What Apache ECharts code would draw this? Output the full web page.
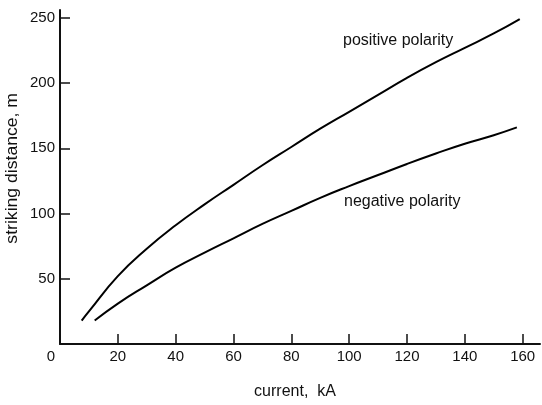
<!DOCTYPE html>
<html>
<head>
<meta charset="utf-8">
<script src="https://cdn.jsdelivr.net/npm/echarts@6/dist/echarts.min.js"></script>
<style>html,body{margin:0;padding:0;background:#fff;}#c{width:542px;height:405px;}</style>
</head>
<body>
<div id="c"></div>
<script>
// current (kA) and striking distance (m)
const positiveX = [7.5, 10, 20, 30, 40, 50, 60, 70, 80, 90, 100, 110, 120, 130, 140, 150, 159];
const positiveY = [18, 25, 52, 73, 91, 107, 122, 137, 151, 165, 178, 191, 204, 216, 227, 238, 249];
const negativeX = [12, 20, 30, 40, 50, 60, 70, 80, 90, 100, 110, 120, 130, 140, 150, 158];
const negativeY = [18, 31, 45, 58.5, 70, 81, 92, 102, 112, 121, 129.5, 138, 146, 153.5, 160, 166];
const xTicks = [0, 20, 40, 60, 80, 100, 120, 140, 160];
const yTicks = [50, 100, 150, 200, 250];
const seriesNames = ['positive polarity', 'negative polarity'];
const xTitle = 'current,  kA';
const yTitle = 'striking distance, m';

const chart = echarts.init(document.getElementById('c'));
const font = 'Liberation Sans, Arial, sans-serif';
const pair = (xs, ys) => xs.map((x, i) => [x, ys[i]]);
chart.setOption({
  animation: false,
  backgroundColor: '#fff',
  grid: { left: 60, right: 2, top: 10, bottom: 54 },
  xAxis: {
    type: 'value', min: 0, max: 166, interval: 20,
    name: xTitle, nameLocation: 'middle', nameGap: 40,
    nameTextStyle: { fontFamily: font, fontSize: 16, color: '#111', padding: [0, 10, 0, 0] },
    axisLine: { show: true, onZero: false, lineStyle: { color: '#111', width: 2 } },
    axisTick: { show: true, inside: true, length: 10, customValues: xTicks, lineStyle: { color: '#111', width: 1.5 } },
    splitLine: { show: false },
    axisLabel: {
      margin: 5, fontFamily: font, fontSize: 15, color: '#111', customValues: xTicks,
      formatter: v => (v === 0 ? '{z|0}' : String(v)),
      rich: { z: { fontFamily: font, fontSize: 15, color: '#111', padding: [0, 18, 0, 0] } }
    }
  },
  yAxis: {
    type: 'value', min: 0, max: 256, interval: 50,
    axisLine: { show: true, lineStyle: { color: '#111', width: 2 } },
    axisTick: { show: true, inside: true, length: 10, customValues: yTicks, lineStyle: { color: '#111', width: 1.5 } },
    splitLine: { show: false },
    axisLabel: {
      margin: 5, fontFamily: font, fontSize: 15, color: '#111', customValues: yTicks,
      formatter: v => String(v)
    }
  },
  graphic: [
    { type: 'text', left: 5, top: 93, rotation: Math.PI / 2, scaleX: 1.1,
      style: { text: yTitle, font: '16px ' + font, fill: '#111' } },
    { type: 'text', left: 343, top: 33,
      style: { text: seriesNames[0], font: '16px ' + font, fill: '#111' } },
    { type: 'text', left: 344, top: 194,
      style: { text: seriesNames[1], font: '16px ' + font, fill: '#111' } }
  ],
  series: [
    { name: seriesNames[0], type: 'line', data: pair(positiveX, positiveY), smooth: 0.5,
      showSymbol: false, lineStyle: { color: '#000', width: 2 } },
    { name: seriesNames[1], type: 'line', data: pair(negativeX, negativeY), smooth: 0.5,
      showSymbol: false, lineStyle: { color: '#000', width: 2 } }
  ]
});
</script>
</body>
</html>
